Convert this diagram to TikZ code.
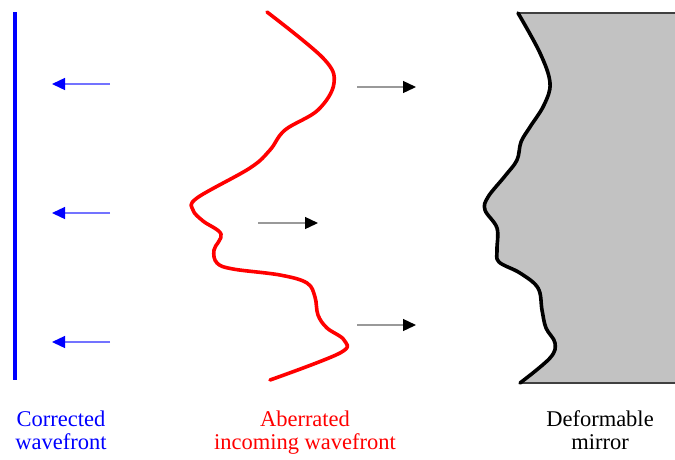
\documentclass[tikz,border=0pt]{standalone}
\usepackage{fontspec}
\setmainfont{Liberation Serif}
\newfontfamily\capfont{Liberation Serif}
\usetikzlibrary{arrows.meta}
\definecolor{mirrorgray}{HTML}{C2C2C2}
\tikzset{
  wave/.style={line width=3.6pt, line cap=round, line join=round},
  ray/.style={line width=1.3pt, -{Triangle[length=13pt,width=12pt,color=#1]}},
  caption/.style={anchor=base, inner sep=0pt},
}
\newcommand{\captext}[1]{\capfont\fontsize{22.5}{23}\selectfont
  \begin{tabular}[b]{@{}c@{}}#1\end{tabular}}
\begin{document}
\begin{tikzpicture}[x=1pt,y=-1pt]
\useasboundingbox (0,0) rectangle (675,459);

% deformable mirror
\def\mirroredge{(518,13) (540,53) (550,83) (544,105) (530,127) (521,142) (517,160)
  (505,176) (488,197) (485,210) (497,228) (497,250) (499,262) (520,273)
  (538,288) (542,310) (546,328) (555,343) (550,358) (520,383)}
\fill[mirrorgray] plot[smooth,tension=0.6] coordinates {\mirroredge}
  -- (676,383) -- (676,13) -- cycle;
\draw[black!75, line width=1.4pt] (518,13) -- (676,13);
\draw[black!75, line width=1.4pt] (520,383) -- (676,383);
\draw[wave, black] plot[smooth,tension=0.6] coordinates {\mirroredge};

% aberrated incoming wavefront
\draw[wave, red] plot[smooth,tension=0.6] coordinates {
  (267,12) (323,58) (334,83) (318,110) (285,130) (270,150) (250,168)
  (197,198) (193,210) (203,221) (221,234) (214,250) (217,263) (233,269)
  (280,275) (307,283) (315,297) (318,315) (327,328) (344,340) (340,353) (270,380)};

% corrected wavefront
\draw[blue, line width=3.6pt] (15,12) -- (15,380);

% propagation arrows
\coordinate (ia) at (357,87);  \coordinate (oa) at (416,87);
\coordinate (ib) at (258,223); \coordinate (ob) at (318,223);
\coordinate (ic) at (357,325); \coordinate (oc) at (416,325);
\draw[ray=black, black!40] (ia) -- (oa);
\draw[ray=black, black!40] (ib) -- (ob);
\draw[ray=black, black!40] (ic) -- (oc);

\coordinate (ra) at (110,84);  \coordinate (sa) at (52,84);
\coordinate (rb) at (110,213); \coordinate (sb) at (52,213);
\coordinate (rc) at (110,342); \coordinate (sc) at (52,342);
\draw[ray=blue, blue!55] (ra) -- (sa);
\draw[ray=blue, blue!55] (rb) -- (sb);
\draw[ray=blue, blue!55] (rc) -- (sc);

% captions
\node[caption, text=blue] (lblc) at (61,449) {\captext{Corrected\\wavefront}};
\node[caption, text=red] (lbla) at (305,449) {\captext{Aberrated\\incoming wavefront}};
\node[caption, text=black] (lbld) at (600,449) {\captext{Deformable\\mirror}};
\end{tikzpicture}
\end{document}
